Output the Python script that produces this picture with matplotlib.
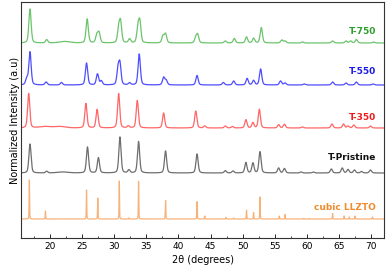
import numpy as np
import matplotlib
matplotlib.use("Agg")
import matplotlib.pyplot as plt

# peak positions (2theta, deg) and heights (a.u.)
llzto_pos = [16.8, 19.3, 25.7, 27.45, 30.8, 32.3, 33.8, 38.0, 42.9, 44.1, 47.4, 48.6,
             50.6, 51.7, 52.7, 55.7, 56.6, 59.5, 60.4, 64.0, 65.8, 66.6, 67.5, 70.2]
llzto_h = [39, 8, 29, 21, 38, 1, 38, 19, 17.5, 3, 1.5, 1,
           9, 6.5, 22, 3, 4.5, 0.5, 0.5, 5.5, 3, 2, 3, 2]

pristine_pos = [16.9, 19.5, 22.0, 25.85, 27.55, 30.9, 32.3, 33.8, 38.0, 42.9, 47.3, 48.5,
                50.5, 51.6, 52.7, 55.6, 56.5, 59.1, 61.0, 63.8, 65.5, 66.4, 67.4, 68.5, 69.9]
pristine_h = [29, 1.7, 1.0, 26, 15.3, 36, 3, 31.5, 22, 19, 2.3, 2,
              10.5, 10, 21.3, 5, 4.5, 1, 1, 4, 5, 3.5, 3, 1.5, 3]

t350_pos = [16.7, 19.2, 21.5, 25.6, 27.35, 30.7, 32.2, 33.6, 37.7, 42.7, 44.1, 47.3, 48.4,
            50.5, 51.6, 52.6, 55.6, 56.5, 59.3, 63.9, 65.7, 66.4, 67.3, 69.9]
t350_h = [34.5, 1.5, 1.5, 24.5, 18.5, 34.5, 2, 27.5, 15, 17, 2, 2, 1.5,
          8.3, 5.3, 18.7, 3.3, 3.7, 1, 4, 4, 2, 3, 2]

t550_pos = [16.4, 16.9, 19.4, 21.8, 25.7, 27.4, 28.0, 30.6, 30.9, 32.4, 33.9, 37.7, 38.1,
            42.9, 47.0, 48.6, 50.7, 51.7, 52.8, 55.9, 56.6, 59.6, 64.0, 66.1, 67.7, 70.3]
t550_h = [6, 33, 3, 2.5, 22, 11, 4, 15, 20, 2, 31, 7.5, 4.5,
          9.5, 2.5, 4, 6.5, 4.5, 16, 4, 2, 1, 3, 2, 3, 1]

t750_pos = [16.9, 19.5, 22.3, 25.8, 27.3, 27.65, 30.7, 31.0, 32.4, 33.7, 34.0, 37.6, 38.0,
            42.7, 43.0, 47.3, 48.7, 50.6, 51.7, 52.9, 56.1, 56.6, 59.3, 64.0, 66.1, 66.8, 67.7, 70.4]
t750_h = [34, 3.3, 1.5, 24, 8, 10, 14, 20, 4, 15, 20, 7, 9,
          5, 8, 2, 4.5, 6, 4.7, 15.5, 3, 2, 1, 2, 2, 2, 3.5, 1]

names = ["cubic LLZTO", "T-Pristine", "T-350", "T-550", "T-750"]
offsets = [19, 65, 110, 153, 195]
line_colors = ["#f7b27a", "#6e6e6e", "#ff6666", "#4d4dff", "#6cc46c"]
text_colors = ["#f08a2c", "#111111", "#ee1c1c", "#1c1ce6", "#2e9e2e"]
widths = [0.08, 0.4, 0.4, 0.42, 0.42]

patterns = [(llzto_pos, llzto_h), (pristine_pos, pristine_h), (t350_pos, t350_h),
            (t550_pos, t550_h), (t750_pos, t750_h)]

tt = np.linspace(15.5, 72, 4000)


def profile(pos, h, w):
    y = np.zeros_like(tt)
    for p, a in zip(pos, h):
        ww = 2.0 if a <= 1.5 and p < 23 else w  # broad amorphous hump
        g = np.exp(-4 * np.log(2) * ((tt - p) / ww) ** 2)
        l = 1 / (1 + 4 * ((tt - p) / ww) ** 2)
        y += a * (0.65 * g + 0.35 * l)
    return y


fig = plt.figure(figsize=(3.86, 2.71), dpi=100)
ax = fig.add_axes([21 / 386, 33 / 271, 363 / 386, 236 / 271])

for (pos, h), off, lc, w in zip(patterns, offsets, line_colors, widths):
    ax.plot(tt, off + profile(pos, h, w), color=lc, lw=0.9)

label_y = [31, 81, 121, 166, 207]
for name, tc, ly in zip(names, text_colors, label_y):
    ax.text(70.8, ly, name, color=tc, fontsize=6.5, fontweight="bold", ha="right", va="center")

ax.set_xlim(15.5, 72)
ax.set_ylim(0, 236)
ax.set_xticks([20, 25, 30, 35, 40, 45, 50, 55, 60, 65, 70])
ax.set_xticks(np.arange(17.5, 72, 5), minor=True)
ax.set_yticks([])
ax.tick_params(axis="x", direction="in", length=3, width=0.6, labelsize=6.5, pad=3)
ax.tick_params(axis="x", which="minor", direction="in", length=1.8, width=0.5)
for s in ax.spines.values():
    s.set_linewidth(0.8)
    s.set_color("#333333")
ax.set_xlabel("2θ (degrees)", fontsize=7, labelpad=3)
ax.set_ylabel("Normalized Intensity (a.u)", fontsize=7, labelpad=1)

fig.savefig("out.png", dpi=100)
